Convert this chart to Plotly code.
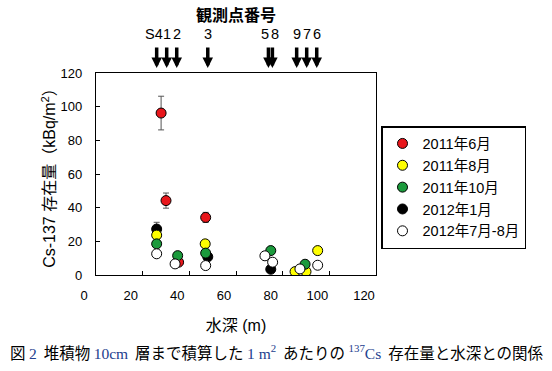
import plotly.graph_objects as go

# ---------------- data ----------------
series_names = ["2011年6月", "2011年8月", "2011年10月", "2012年1月", "2012年7月-8月"]

jun2011_x = [27.9, 30.0, 47.0, 35.4]
jun2011_y = [96.2, 44.2, 34.2, 7.6]
jun2011_err = [10.0, 4.5, 3.0, 0.0]

aug2011_x = [26.0, 46.8, 85.3, 90.0, 95.0]
aug2011_y = [23.7, 18.5, 2.0, 2.0, 14.5]

oct2011_x = [26.0, 35.0, 47.0, 74.9, 89.6]
oct2011_y = [18.5, 11.5, 13.0, 14.5, 6.4]

jan2012_x = [26.0, 47.9, 74.9]
jan2012_y = [27.3, 10.8, 3.4]
jan2012_err = [4.0, 0.0, 0.0]

julaug2012_x = [26.0, 33.9, 47.0, 72.4, 75.7, 87.4, 95.0]
julaug2012_y = [12.6, 6.6, 5.6, 11.4, 7.6, 3.6, 5.8]

station_labels = ["S4", "1", "2", "3", "5", "8", "9", "7", "6"]
station_depths = [26.0, 30.3, 34.6, 47.9, 73.9, 75.6, 86.0, 90.3, 94.6]

x_ticks = [0, 20, 40, 60, 80, 100, 120]
y_ticks = [0, 20, 40, 60, 80, 100, 120]

# ---------------- style ----------------
SANS = "Liberation Sans, Arial, Noto Sans CJK JP"
CJK = "Noto Sans CJK JP"
BLUE = "#23408e"

colors = {
    "2011年6月": "#e8161b",
    "2011年8月": "#ffff00",
    "2011年10月": "#1b9a3c",
    "2012年1月": "#000000",
    "2012年7月-8月": "#ffffff",
}
label_shift = {"S4": -3, "5": -3, "8": 3}

# plot area (page pixels): x 96..376, y 73..275
PL, PT, PW, PH = 96, 73, 280, 202
W, H = 552, 371

fig = go.Figure()

def add(name, xs, ys, rank, err=None):
    kw = {}
    if err is not None:
        kw["error_y"] = dict(type="data", array=err, visible=True,
                             color="#555555", thickness=1, width=3)
    fig.add_trace(go.Scatter(
        x=xs, y=ys, mode="markers", name=name, legendrank=rank,
        marker=dict(size=10, color=colors[name],
                    line=dict(color="#000000", width=1)),
        **kw))

# drawing order (bottom to top) differs from legend order
add("2011年6月", jun2011_x, jun2011_y, 1, jun2011_err)
add("2012年1月", jan2012_x, jan2012_y, 4, jan2012_err)
add("2011年8月", aug2011_x, aug2011_y, 2)
add("2011年10月", oct2011_x, oct2011_y, 3)
add("2012年7月-8月", julaug2012_x, julaug2012_y, 5)

def py(page_y):
    return (PT + PH - page_y) / PH

def px(page_x):
    return (page_x - PL) / PW

annotations = []
annotations.append(dict(text="<b>観測点番号</b>", xref="paper", yref="paper",
                        x=0.5, y=py(14), showarrow=False,
                        font=dict(family=CJK, size=16, color="#000"),
                        xanchor="center", yanchor="middle"))
for lab, d in zip(station_labels, station_depths):
    annotations.append(dict(text=lab, xref="x", yref="paper", x=d, y=py(34),
                            showarrow=False, xshift=label_shift.get(lab, 0),
                            font=dict(family=SANS, size=14.5, color="#000"),
                            xanchor="center", yanchor="middle"))
    annotations.append(dict(text="", xref="x", yref="paper", x=d, y=py(68),
                            showarrow=True, ax=0, ay=-22,
                            arrowhead=2, arrowsize=0.6, arrowwidth=3.5,
                            arrowcolor="#000"))
caption = ("図 <span style='font-family:Liberation Serif;color:%s'>2</span>  堆積物 "
           "<span style='font-family:Liberation Serif;color:%s'>10cm</span>  層まで積算した "
           "<span style='font-family:Liberation Serif;color:%s'>1 m<sup>2</sup></span>  あたりの "
           "<span style='font-family:Liberation Serif;color:%s'><sup>137</sup>Cs</span>  "
           "存在量と水深との関係") % (BLUE, BLUE, BLUE, BLUE)
annotations.append(dict(text=caption, xref="paper", yref="paper",
                        x=px(276), y=py(352),
                        showarrow=False, xanchor="center", yanchor="middle",
                        font=dict(family=CJK, size=15.5, color="#000")))

fig.update_layout(
    width=W, height=H,
    margin=dict(l=PL, r=W - PL - PW, t=PT, b=H - PT - PH),
    paper_bgcolor="white", plot_bgcolor="white",
    font=dict(family=SANS, size=13, color="#000"),
    showlegend=True,
    legend=dict(x=px(381), y=py(126),
                xanchor="left", yanchor="top",
                bordercolor="#000", borderwidth=1.5, bgcolor="white",
                font=dict(family=SANS, size=14.5, color="#000"),
                itemwidth=30, tracegroupgap=0),
    annotations=annotations,
    xaxis=dict(range=[0, 120], tickvals=x_ticks, ticktext=[str(v) for v in x_ticks],
               showline=True, linecolor="#000", linewidth=1.3, mirror=True,
               ticks="inside", ticklen=4, tickcolor="#000",
               showgrid=False, zeroline=False, automargin=False,
               tickfont=dict(family=SANS, size=13), ticklabelshift=-12,
               ticklabelstandoff=8,
               title=dict(text="水深 (m)", font=dict(family=SANS, size=16), standoff=18)),
    yaxis=dict(range=[0, 120], tickvals=y_ticks, ticktext=[str(v) for v in y_ticks],
               showline=True, linecolor="#000", linewidth=1.3, mirror=True,
               ticks="inside", ticklen=4, tickcolor="#000",
               showgrid=False, zeroline=False, automargin=False,
               tickfont=dict(family=SANS, size=13), ticklabelstandoff=10,
               title=dict(text="Cs-137 存在量（kBq/m<sup>2</sup>）",
                          font=dict(family=SANS, size=16), standoff=0)),
)

# remove the browser's default 8px page margin so the figure fills the window
fig.write_html("out.html", config={"displayModeBar": False},
               post_script="document.body.style.margin='0';document.body.style.overflow='hidden';")
